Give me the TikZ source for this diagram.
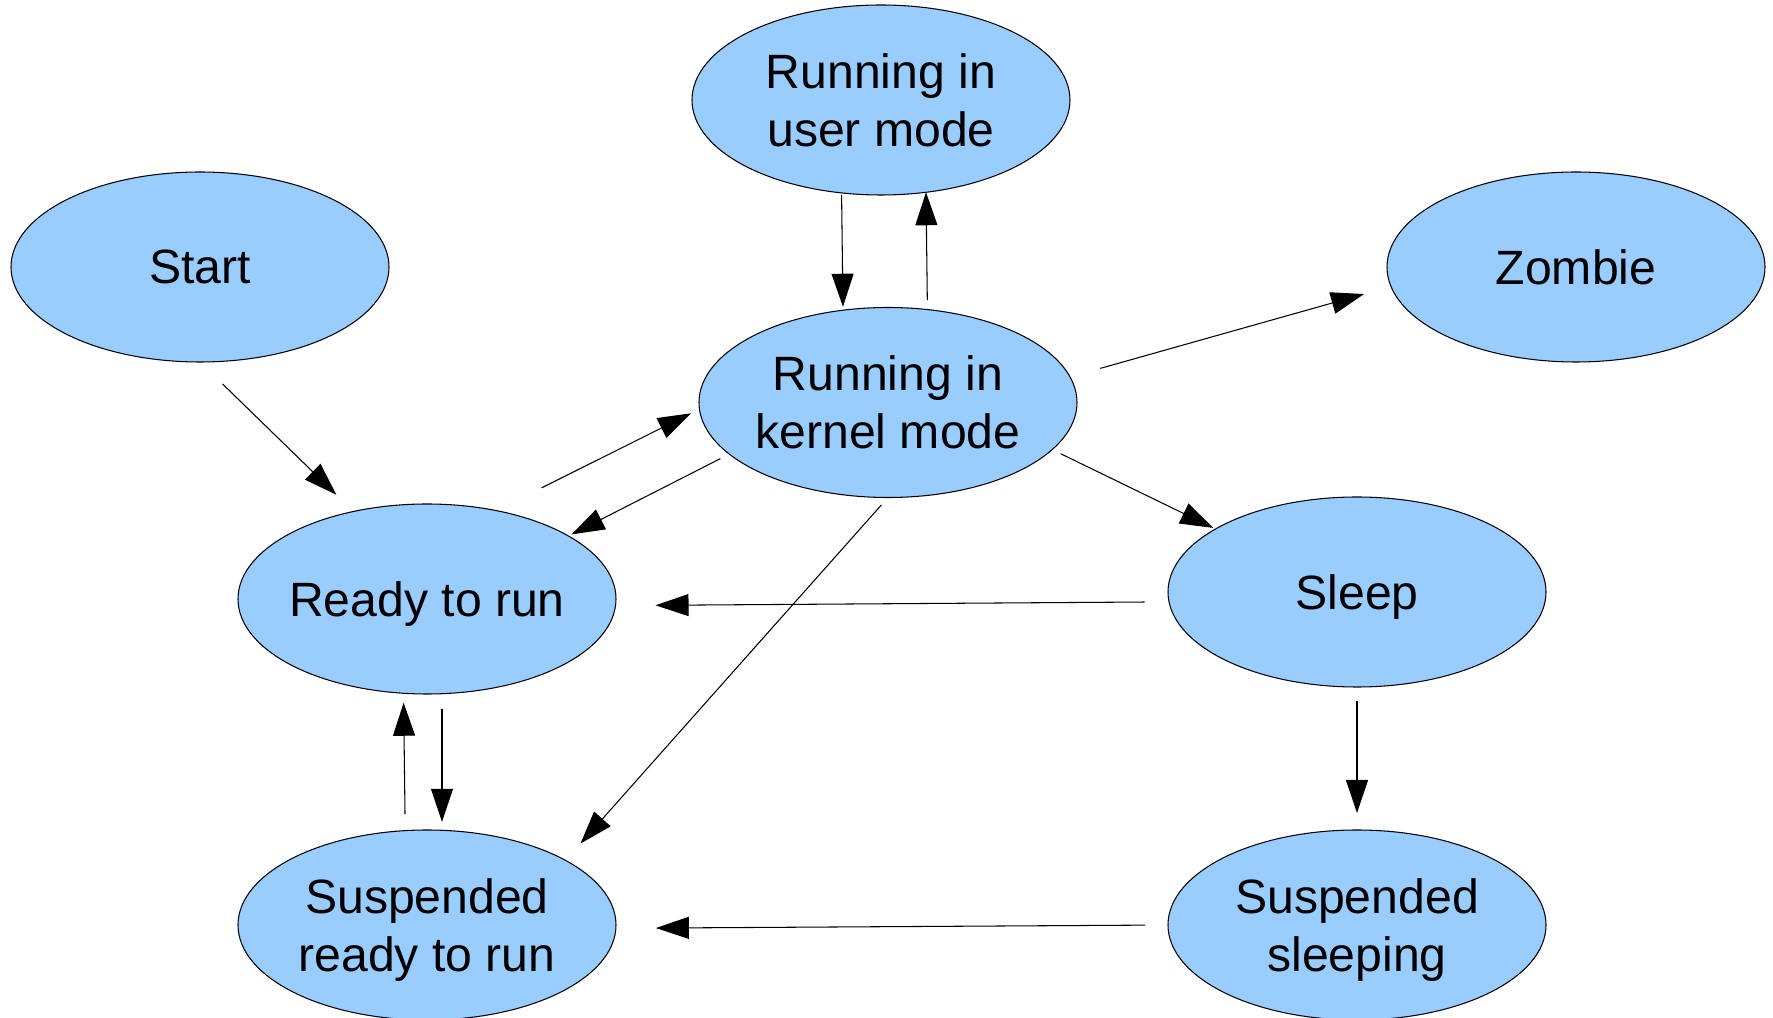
\documentclass[tikz,border=0pt]{standalone}
\usepackage{fontspec}
\setmainfont{Liberation Sans}
\usetikzlibrary{shapes.geometric, arrows.meta}
\definecolor{stateblue}{RGB}{153,204,255}
\tikzset{state/.style={ellipse, draw, line width=0.6pt, fill=stateblue, minimum width=7.56cm, minimum height=3.8cm, inner xsep=-0.4cm, inner ysep=0pt, outer sep=0pt, align=center, text depth=0pt, font=\fontsize{27.4}{33}\selectfont}}
\tikzset{trans/.style={line width=0.6pt, -{Triangle[length=0.66cm, width=0.44cm]}}}

\begin{document}
\begin{tikzpicture}
            \useasboundingbox (0, 0) rectangle (35.46, -20.36);
            \node[state] (start) at (4.00, -5.34) {Start};
            \node[state] (user) at (17.62, -2.00) {Running in\\user mode};
            \node[state] (zombie) at (31.52, -5.34) {Zombie};
            \node[state] (kernel) at (17.76, -8.05) {Running in\\kernel mode};
            \node[state] (ready) at (8.54, -11.98) {Ready to run};
            \node[state] (sleep) at (27.14, -11.84) {Sleep};
            \node[state] (suspready) at (8.54, -18.50) {Suspended\\ready to run};
            \node[state] (suspsleep) at (27.14, -18.50) {Suspended\\sleeping};
            % transitions, all with a gap at both ends
            \draw[trans, shorten <=0.63cm, shorten >=0.48cm] (start.south) -- (ready.130.3);
            \draw[trans, shorten <=0.04cm, shorten >=0.07cm] (user.247.2) -- (kernel.116.5);
            \draw[trans, shorten <=0.19cm] (kernel.67.8) -- (user.-64);
            \draw[trans, shorten <=1.02cm, shorten >=0.19cm] (ready.52.5) -- (kernel.182.4);
            \draw[trans, shorten <=0.20cm, shorten >=0.07cm] (kernel.198.7) -- (ready.24.2);
            \draw[trans, shorten <=0.63cm, shorten >=0.56cm] (kernel.8.2) -- (zombie.186);
            \draw[trans, shorten <=0.19cm, shorten >=0.05cm] (kernel.344.8) -- (sleep.156.1);
            \draw[trans, shorten <=0.20cm, shorten >=0.45cm] (kernel.south) -- (suspready.25.1);
            \draw[trans, shorten <=0.49cm, shorten >=0.80cm] (sleep.183.7) -- (ready.358.8);
            \draw[trans, shorten <=0.33cm, shorten >=0.19cm] (suspready.103.7) -- (ready.256.3);
            \draw[trans, shorten <=0.31cm, shorten >=0.17cm] (ready.279) -- (suspready.81);
            \draw[trans, shorten <=0.28cm, shorten >=0.34cm] (sleep.south) -- (suspsleep.north);
            \draw[trans, shorten <=0.46cm, shorten >=0.80cm] (suspsleep.180.9) -- (suspready.359.1);
        \end{tikzpicture}
\end{document}
